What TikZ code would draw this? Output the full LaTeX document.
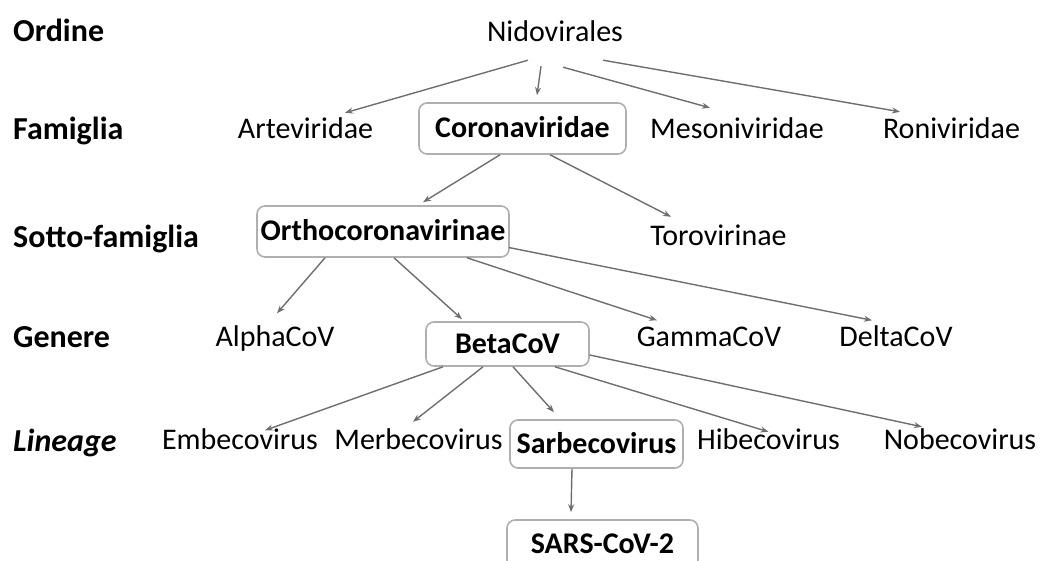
\documentclass[tikz,border=0pt]{standalone}
\usepackage{fontspec}
\setmainfont{Carlito}
\usetikzlibrary{arrows.meta}
\definecolor{linegray}{RGB}{110,110,110}
\definecolor{boxgray}{RGB}{175,175,175}
\tikzset{
  rank/.style={anchor=west, inner sep=0pt, text height=20.6pt, text depth=0pt,
    font=\fontsize{32}{38}\selectfont\bfseries},
  taxon/.style={inner sep=0pt, text height=19pt, text depth=0pt,
    font=\fontsize{30}{36}\selectfont},
  taxbox/.style={taxon, draw=boxgray, line width=1.6pt, rounded corners=8pt,
    font=\fontsize{30}{36}\selectfont\bfseries},
  link/.style={draw=linegray, line width=1.4pt, -{Stealth[length=8pt,width=6pt]}},
}
\begin{document}
\begin{tikzpicture}[x=1pt, y=-1pt]
\useasboundingbox (0,0) rectangle (1047,561);
% ranks on the left
\node[rank] (ordine) at (13,31.5) {Ordine};
\node[rank] (famiglia) at (13,129.5) {Famiglia};
\node[rank] (sotto) at (13,237.5) {Sotto-famiglia};
\node[rank] (genere) at (13,337.5) {Genere};
\node[rank] (lineage) at (13,441.5) {\itshape Lineage};

% taxa
\node[taxon] (nido) at (555,32.5) {Nidovirales};
\node[taxon] (arte) at (305.5,129.5) {Arteviridae};
\node[taxbox, minimum width=207pt, minimum height=51pt] (corona) at (522.5,128.5) {Coronaviridae};
\node[taxon] (meso) at (737,129.5) {Mesoniviridae};
\node[taxon] (roni) at (951.5,129.5) {Roniviridae};

\node[taxbox, minimum width=252pt, minimum height=51pt] (ortho) at (383,231.5) {Orthocoronavirinae};
\node[taxon] (toro) at (718.5,236.5) {Torovirinae};

\node[taxon] (alpha) at (275,337) {AlphaCoV};
\node[taxbox, minimum width=163pt, minimum height=44pt] (beta) at (507.5,344) {BetaCoV};
\node[taxon] (gamma) at (709,337) {GammaCoV};
\node[taxon] (delta) at (896,337) {DeltaCoV};

\node[taxon] (embe) at (240,440) {Embecovirus};
\node[taxon] (merbe) at (418.5,440) {Merbecovirus};
\node[taxbox, minimum width=173pt, minimum height=48pt] (sarbe) at (596.5,444) {Sarbecovirus};
\node[taxon] (hibe) at (768.5,440) {Hibecovirus};
\node[taxon] (nobe) at (960,440) {Nobecovirus};

\node[taxbox, minimum width=191pt, minimum height=48pt] (sars) at (602.5,544) {SARS-CoV-2};

% links
\draw[link] ([xshift=-27pt,yshift=-18pt]nido.south) -- ([xshift=39.5pt,yshift=7pt]arte.north);
\draw[link] ([xshift=-14pt,yshift=-24pt]nido.south) -- ([xshift=14.5pt,yshift=7pt]corona.north);
\draw[link] ([xshift=8pt,yshift=-25pt]nido.south) -- ([xshift=-27pt,yshift=12pt]meso.north);
\draw[link] ([xshift=48pt,yshift=-18pt]nido.south) -- ([xshift=-51.5pt,yshift=8pt]roni.north);

\draw[link] ([xshift=-22.5pt]corona.south) -- ([xshift=40pt,yshift=3pt]ortho.north);
\draw[link] ([xshift=27.5pt]corona.south) -- ([xshift=-47.5pt,yshift=10pt]toro.north);

\draw[link] ([xshift=-58pt]ortho.south) -- ([xshift=2pt,yshift=14pt]alpha.north);
\draw[link] ([xshift=11pt]ortho.south) -- ([xshift=-45.5pt,yshift=2pt]beta.north);
\draw[link] ([xshift=84pt]ortho.south) -- ([xshift=-52pt,yshift=7pt]gamma.north);
\draw[link] ([xshift=-1pt,yshift=-16pt]ortho.east) -- ([xshift=-24pt,yshift=7pt]delta.north);

\draw[link] ([xshift=-64.5pt]beta.south) -- ([xshift=25pt]embe.north);
\draw[link] ([xshift=-24.5pt]beta.south) -- ([xshift=-5.5pt,yshift=8.5pt]merbe.north);
\draw[link] ([xshift=5.5pt]beta.south) -- ([xshift=-42.5pt,yshift=7pt]sarbe.north);
\draw[link] ([xshift=47.5pt]beta.south) -- ([yshift=-1.5pt]hibe.north);
\draw[link] ([yshift=-11pt]beta.east) -- ([xshift=-38pt,yshift=3.5pt]nobe.north);

\draw[link] ([xshift=-24.5pt]sarbe.south) -- ([xshift=-31.5pt,yshift=7pt]sars.north);
\end{tikzpicture}
\end{document}
